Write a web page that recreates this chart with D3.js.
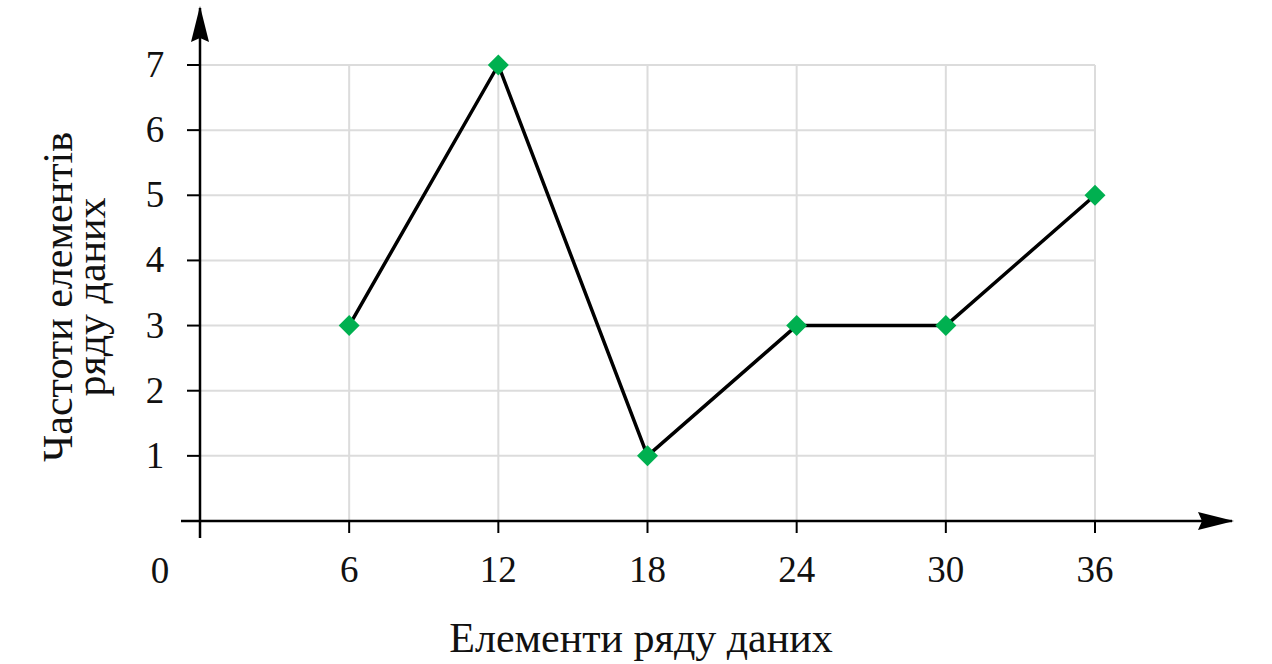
<!DOCTYPE html>
<html>
<head>
<meta charset="utf-8">
<script src="https://cdn.jsdelivr.net/npm/d3@7"></script>
<style>
  body { margin: 0; background: #fff; }
  text { font-family: "Liberation Serif", "DejaVu Serif", serif; fill: #111; }
</style>
</head>
<body>
<div id="root"></div>
<script>
// data
const elements = [6, 12, 18, 24, 30, 36]
const freqs = [3, 7, 1, 3, 3, 5]
const yTicks = [1, 2, 3, 4, 5, 6, 7]

const w = 1272, h = 664

const x = d3.scaleLinear().domain([0, 36]).range([200, 1095])
const y = d3.scaleLinear().domain([0, 7]).range([521, 65])

const svg = d3.select("#root").append("svg")
    .attr("width", w)
    .attr("height", h)

const defs = svg.append("defs")
defs.append("marker")
    .attr("id", "arr")
    .attr("viewBox", "0 0 36 18")
    .attr("refX", 34).attr("refY", 9)
    .attr("markerWidth", 36).attr("markerHeight", 18)
    .attr("markerUnits", "userSpaceOnUse")
    .attr("orient", "auto")
    .append("path")
    .attr("d", "M0,0 L36,9 L0,18 L4,9 Z")
    .attr("fill", "#000")

// grid
svg.append("g").selectAll("line.hg").data(yTicks).enter().append("line")
    .attr("x1", x(0)).attr("x2", x(36))
    .attr("y1", d => y(d)).attr("y2", d => y(d))
    .attr("stroke", "#dcdcdc").attr("stroke-width", 2)

svg.append("g").selectAll("line.vg").data(elements).enter().append("line")
    .attr("x1", d => x(d)).attr("x2", d => x(d))
    .attr("y1", y(7)).attr("y2", y(0))
    .attr("stroke", "#dcdcdc").attr("stroke-width", 2)

// axes
svg.append("line")
    .attr("x1", 181).attr("x2", 1232)
    .attr("y1", y(0)).attr("y2", y(0))
    .attr("stroke", "#000").attr("stroke-width", 2.5)
    .attr("marker-end", "url(#arr)")

svg.append("line")
    .attr("x1", x(0)).attr("x2", x(0))
    .attr("y1", 538).attr("y2", 8)
    .attr("stroke", "#000").attr("stroke-width", 2.5)
    .attr("marker-end", "url(#arr)")

// ticks
svg.append("g").selectAll("line").data(yTicks).enter().append("line")
    .attr("x1", 187).attr("x2", x(0))
    .attr("y1", d => y(d)).attr("y2", d => y(d))
    .attr("stroke", "#000").attr("stroke-width", 2)

svg.append("g").selectAll("line").data(elements).enter().append("line")
    .attr("x1", d => x(d)).attr("x2", d => x(d))
    .attr("y1", y(0)).attr("y2", y(0) + 12)
    .attr("stroke", "#000").attr("stroke-width", 2)

// tick labels
svg.append("g").selectAll("text").data(yTicks).enter().append("text")
    .attr("x", 155).attr("y", d => y(d) + 12)
    .attr("text-anchor", "middle")
    .attr("font-size", 37)
    .text(d => d)

svg.append("g").selectAll("text").data(elements).enter().append("text")
    .attr("x", d => x(d)).attr("y", 582)
    .attr("text-anchor", "middle")
    .attr("font-size", 37)
    .text(d => d)

svg.append("text")
    .attr("x", 160).attr("y", 583)
    .attr("text-anchor", "middle")
    .attr("font-size", 37)
    .text("0")

// line
const line = d3.line()
    .x((d, i) => x(elements[i]))
    .y(d => y(d))

svg.append("path")
    .datum(freqs)
    .attr("d", line)
    .attr("fill", "none")
    .attr("stroke", "#000")
    .attr("stroke-width", 3.5)
    .attr("stroke-linejoin", "round")

svg.append("g").selectAll("path").data(freqs).enter().append("path")
    .attr("d", d3.symbol(d3.symbolSquare, 220))
    .attr("transform", (d, i) => `translate(${x(elements[i])},${y(d)}) rotate(45)`)
    .attr("fill", "#00b050")

// titles
svg.append("text")
    .attr("x", 641).attr("y", 652)
    .attr("text-anchor", "middle")
    .attr("font-size", 42)
    .text("Елементи ряду даних")

const yt = svg.append("text")
    .attr("transform", "translate(72,297) rotate(-90)")
    .attr("text-anchor", "middle")
    .attr("font-size", 42)
yt.append("tspan").attr("x", 0).attr("y", 0).text("Частоти елементів")
yt.append("tspan").attr("x", 0).attr("y", 33).text("ряду даних")
</script>
</body>
</html>
